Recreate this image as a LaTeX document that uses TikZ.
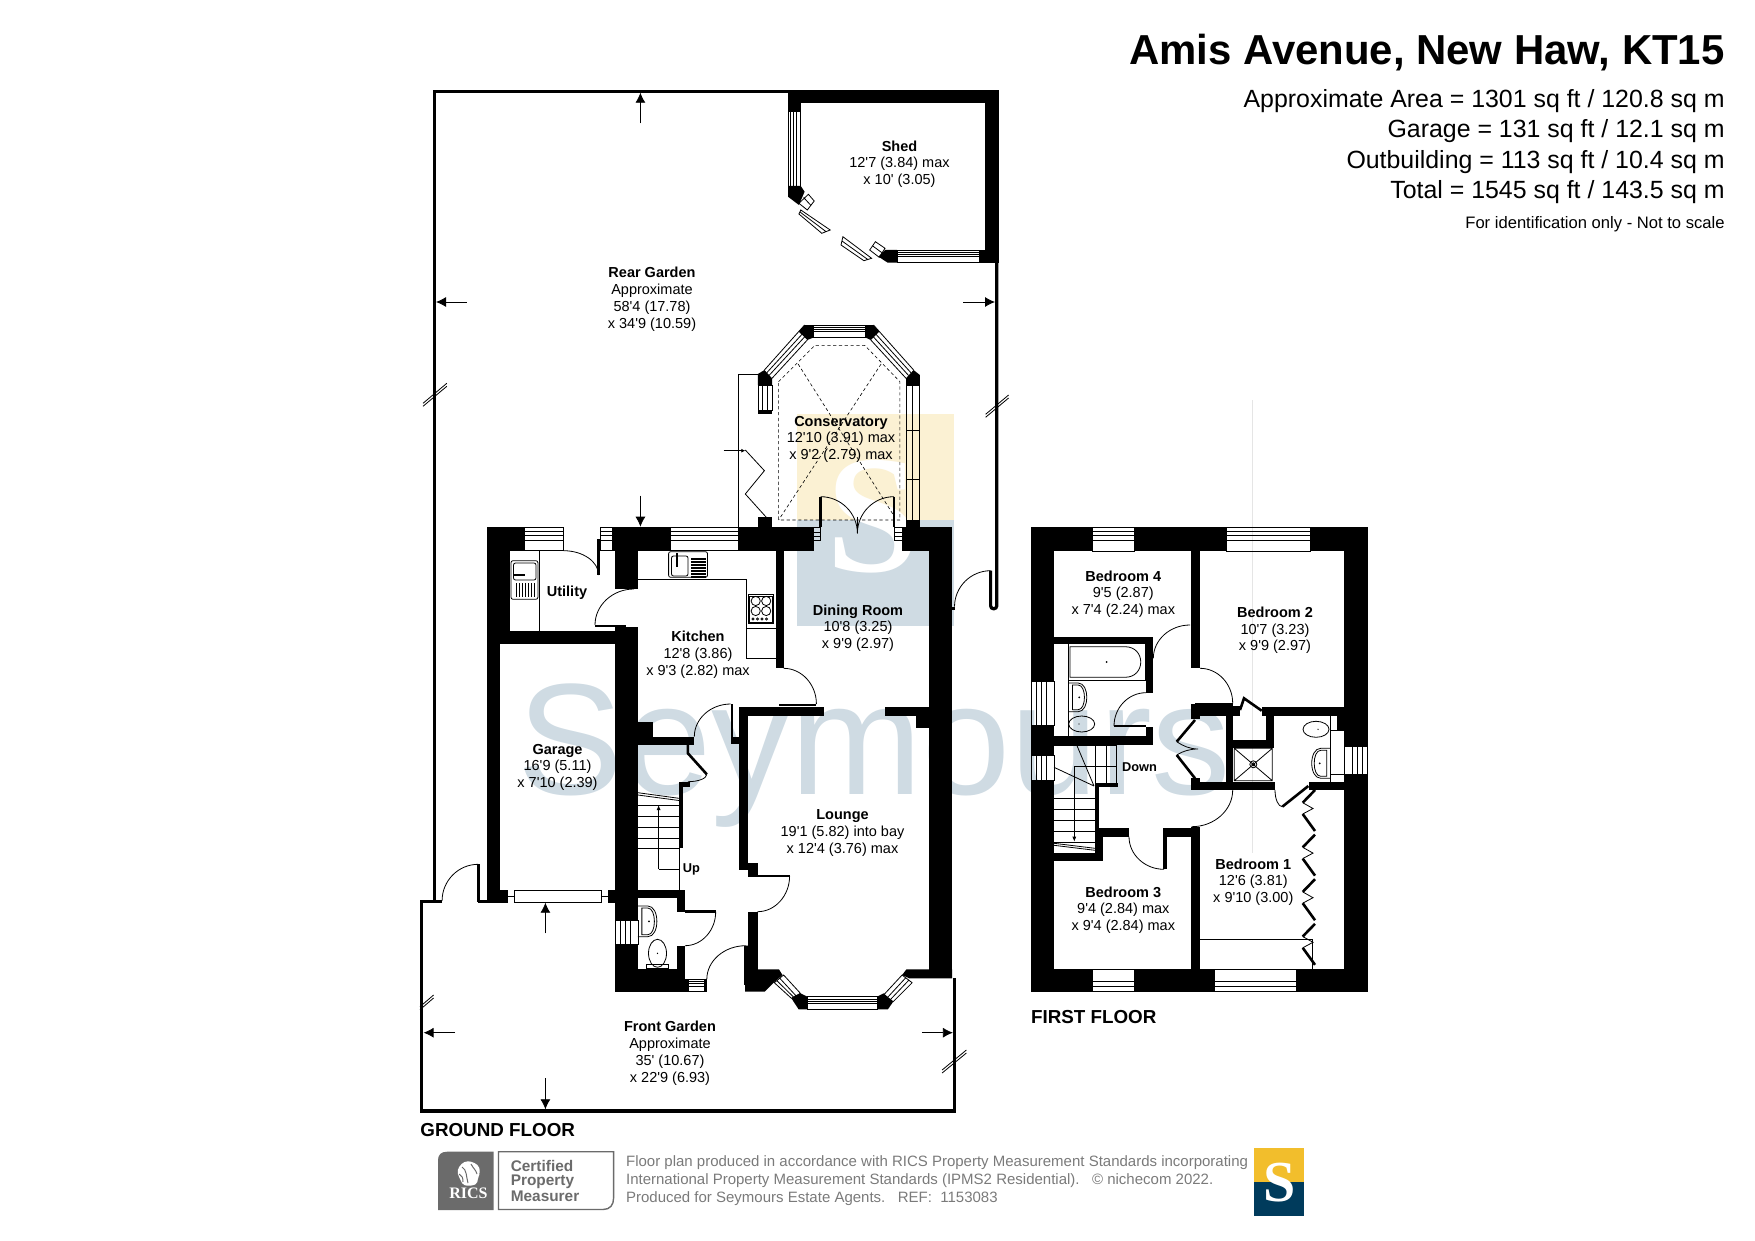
\documentclass[tikz,border=0pt]{standalone}
\usepackage{fontspec}
\setmainfont{Liberation Sans}[Ligatures=TeXOff]
\newfontfamily\logofont{Liberation Serif}
\usetikzlibrary{arrows.meta}
\definecolor{seymblue}{HTML}{CFDBE3}
\definecolor{seymyellow}{HTML}{FBF1D3}
\definecolor{logoyellow}{HTML}{F2BE2C}
\definecolor{logonavy}{HTML}{003B5C}
\definecolor{ricsgrey}{HTML}{6B6B6B}
\definecolor{notegrey}{HTML}{7A7A7A}
\tikzset{
  wall/.style={fill=black,draw=none},
  fitting/.style={line width=.4pt},
  leaf/.style={line width=1.3pt},
  boundary/.style={line width=1.6pt},
  dimarrow/.style={line width=.4pt,-{Latex[length=5pt,width=5pt]}},
  room/.style={align=center,yshift=-1.1pt,font=\fontsize{7.25}{8.35}\selectfont},
  tag/.style={anchor=west,yshift=-.9pt,font=\fontsize{6.4}{8}\selectfont\bfseries},
  floorname/.style={anchor=west,yshift=-.5pt,font=\fontsize{9.4}{11}\selectfont\bfseries},
  arealine/.style={anchor=east,yshift=-1.1pt,font=\fontsize{12.45}{14}\selectfont},
  noteline/.style={anchor=west,yshift=-1.4pt,text=notegrey,font=\fontsize{7.5}{9}\selectfont},
  ricsline/.style={anchor=west,text=ricsgrey,font=\fontsize{7.7}{9}\selectfont\bfseries},
}
\newcommand{\swing}[6]{\draw[fitting] (#3,#4) .. controls ({#3+.55*(#5-#1)},{#4+.55*(#6-#2)}) and ({#5+.55*(#3-#1)},{#6+.55*(#4-#2)}) .. (#5,#6);}
\newcommand{\paneh}[4]{\draw[fitting] (#1,#3) rectangle (#2,#4);
  \draw[fitting] (#1,{#3+.18*(#4-#3)}) -- (#2,{#3+.18*(#4-#3)}) (#1,{#3+.36*(#4-#3)}) -- (#2,{#3+.36*(#4-#3)}) (#1,{#3+.54*(#4-#3)}) -- (#2,{#3+.54*(#4-#3)});}
\newcommand{\panev}[4]{\draw[fitting] (#1,#3) rectangle (#2,#4);
  \draw[fitting] ({#1+.22*(#2-#1)},#3) -- ({#1+.22*(#2-#1)},#4) ({#1+.44*(#2-#1)},#3) -- ({#1+.44*(#2-#1)},#4) ({#1+.66*(#2-#1)},#3) -- ({#1+.66*(#2-#1)},#4);}
\newcommand{\washbasin}[4]{\draw[fitting] (#1,#2) -- ({#1+.45*#4},#2) .. controls ({#1+#4},#2) and ({#1+#4},#3) .. ({#1+.45*#4},#3) -- (#1,#3);
  \draw[fitting] ({#1+.18*#4},{#2+2}) -- ({#1+.45*#4},{#2+2}) .. controls ({#1+.85*#4},{#2+2}) and ({#1+.85*#4},{#3-2}) .. ({#1+.45*#4},{#3-2}) -- ({#1+.18*#4},{#3-2}) -- cycle;
  \fill ({#1+.5*#4},{.5*#2+.5*#3}) circle (1);}
\begin{document}
\begin{tikzpicture}[x=.5pt,y=-.5pt]
\useasboundingbox (0,0) rectangle (1755,1241);

% watermark
\fill[seymyellow] (797,414.3) rectangle (953.8,520);
\fill[seymblue] (797,520) rectangle (953.8,626);
\node[text=white,inner sep=0pt,font=\logofont\bfseries\fontsize{84}{84}\selectfont] (wmletter) at (873,517) {S};
\node[text=seymblue,inner sep=0pt,anchor=base west,font=\fontsize{79.3}{79}\selectfont] (wmname) at (517,794) {Seymours};
\draw[black!10,line width=.4pt] (1252.7,400) -- (1252.7,853);

% rear garden boundary
\draw[boundary] (434.3,900.7) -- (434.3,91.4) -- (788,91.4);
\draw[boundary,rounded corners=1.5pt] (996.8,262) -- (996.8,608.8) -- (990.6,608.8) -- (990.6,570.7);
\swing{990.6}{606.7}{990.6}{570.7}{954.5}{606.7}
\fill[wall] (951.7,606.7) rectangle (955,610);

% shed
\fill[wall] (788,90) rectangle (998.6,102.7);
\fill[wall] (985,90) rectangle (998.6,262.7);
\fill[wall] (979.5,250) rectangle (998.6,262.7);
\fill[wall] (788,90) rectangle (800.8,111.7);
\fill[wall] (885,250) -- (897,250) -- (897,262.7) -- (887.7,262.7) -- (878.5,256.7) -- cycle;
\fill[wall] (788,186) -- (800.8,186) -- (804.6,191.7) -- (798.9,205) -- (788,196.7) -- cycle;
\panev{788}{800.8}{111.7}{186}
\paneh{897}{979.5}{250}{262.7}
\draw[fitting] (808.4,194.3) -- (814.2,201) -- (807.3,210) -- (798.9,203.3) -- cycle (803.6,197.5) -- (811,205.5);
\draw[fitting] (875.4,241.7) -- (885,248.3) -- (879.2,257.3) -- (869.7,250) -- cycle (872.5,245.8) -- (882,252.8);
\draw[fitting] (800.8,210) -- (830.2,230) -- (821.8,233.3) -- (798.9,214) -- cycle (800,212) -- (826,231.6);
\draw[fitting] (842.9,236.7) -- (871.6,258.3) -- (863.9,260.7) -- (841,245) -- cycle (842,241) -- (867.8,259.5);

% rear garden dimensions
\draw[dimarrow] (640.4,123.3) -- (640.4,92.7);
\draw[dimarrow] (466.7,302) -- (436,302);
\draw[dimarrow] (963.4,302) -- (995,302);
\draw[dimarrow] (640.4,495.7) -- (640.4,526.7);
\draw[fitting] (423,403.3) -- (446.8,383.3) (423,406.3) -- (446.8,386.3);
\draw[fitting] (985.6,414.3) -- (1008.6,395) (985.6,417.3) -- (1008.6,398);

% conservatory
\fill[wall] (798.9,331.7) -- (804.6,325) -- (813,325) -- (813,337.7) -- (807.3,340) -- cycle;
\fill[wall] (865.8,325) -- (873.5,325) -- (879.2,331.7) -- (870.8,340) -- (865.8,337.7) -- cycle;
\fill[wall] (757.9,374) -- (764.4,370) -- (772,378.3) -- (772,385) -- (757.9,385) -- cycle;
\fill[wall] (906,378.3) -- (913.6,370) -- (919.8,375) -- (919.8,385) -- (906,385) -- cycle;
\fill[wall] (757.9,410) rectangle (772,414);
\fill[wall] (906,520) rectangle (920,527.3);
\fill[wall] (758,517.3) rectangle (772,527.3);
\paneh{813}{865.8}{325}{337.7}
\draw[fitting] (764.4,370) -- (804.6,325) (772,378.3) -- (807.3,340) (766.7,372.8) -- (801.8,334.5) (769,375.5) -- (804.5,337);
\draw[fitting] (913.6,370) -- (873.5,325) (906,378.3) -- (870.8,340) (911,372.8) -- (876.2,334.5) (908.6,375.5) -- (873.5,337);
\draw[fitting] (757.9,385) rectangle (772,410) (762.5,385) -- (762.5,410) (767.2,385) -- (767.2,410);
\draw[fitting] (906,385) rectangle (919.8,520) (912.8,385) -- (912.8,520) (906,430) -- (919.8,430) (906,479.3) -- (919.8,479.3);
\draw[fitting] (757.9,374) -- (738.4,374) -- (738.4,527.3);
\draw[line width=.3pt,dash pattern=on 1.6pt off 1.3pt] (778.6,381.7) -- (814.9,345.3) -- (864.7,345.3) -- (899.9,381.7) -- (899.9,520) -- (778.6,520) -- cycle;
\draw[line width=.3pt,dash pattern=on 1.6pt off 1.3pt] (798.1,364) -- (894.5,516.7) (881.1,364) -- (778.6,520);
\draw[dimarrow,-{Latex[length=2pt,width=2pt]}] (723.5,450.7) -- (745.3,450.7);
\draw[fitting] (745.3,450) -- (764.4,470.7) -- (745.3,494) -- (766.3,517.3);
\draw[leaf] (820.7,496.7) -- (820.7,527.3) (893.8,496.7) -- (893.8,527.3);
\swing{820.7}{533.3}{820.7}{496.7}{857.4}{533.3}
\swing{893.8}{533.3}{893.8}{496.7}{857.4}{533.3}
\draw[fitting] (857.4,516.7) -- (857.4,533.3);

% ground floor outer walls
\fill[wall] (487,527.3) rectangle (524.6,550.7);
\fill[wall] (487,527.3) rectangle (510,630.7);
\fill[wall] (487,630.7) rectangle (500,902.7);
\fill[wall] (487,630.7) rectangle (637.9,644);
\fill[wall] (612,527.3) rectangle (670,550.7);
\fill[wall] (615,527.3) rectangle (637.9,589);
\fill[wall] (615,627.3) rectangle (637.9,920);
\fill[wall] (615.4,944) rectangle (637.9,991.7);
\fill[wall] (737.9,527.3) rectangle (813.6,550.7);
\fill[wall] (902.1,527.3) rectangle (952.1,550.7);
\fill[wall] (928.9,527.3) rectangle (952.1,978.3);
\paneh{524.6}{563.6}{527.3}{550.7}
\paneh{600.4}{612}{527.3}{550.7}
\paneh{670}{737.9}{527.3}{550.7}
\draw[fitting] (813.6,527.3) rectangle (820.7,540.7) (813.6,532) -- (820.7,532) (813.6,536) -- (820.7,536);
\draw[fitting] (894.3,527.3) rectangle (902.1,540.7) (894.3,532) -- (902.1,532) (894.3,536) -- (902.1,536);

% ground floor inner walls
\fill[wall] (776.4,550.7) rectangle (783.6,668.3);
\fill[wall] (738.9,707.3) rectangle (823.6,715.7);
\fill[wall] (885,707.3) rectangle (928.9,715.7);
\fill[wall] (916.4,715.7) rectangle (928.9,727.7);
\fill[wall] (738.9,707.3) rectangle (747.5,870);
\fill[wall] (747.5,863.3) rectangle (757.5,876.7);
\fill[wall] (747.9,911.7) rectangle (757.5,970);
\fill[wall] (637.9,736.7) rectangle (694.3,745);
\fill[wall] (637.9,722.3) rectangle (652.9,736.7);
\fill[wall] (730.7,736.7) rectangle (738.9,744.3);
\fill[wall] (730.7,704) rectangle (733,737);
\fill[wall] (679,785) rectangle (682.5,848.3);
\fill[wall] (679,781.7) rectangle (689.6,786.5);
\fill[wall] (637.9,890) rectangle (685,898);
\fill[wall] (677.1,890) rectangle (685,911.7);
\fill[wall] (677.1,945.7) rectangle (685,970);
\fill[wall] (637.9,968.7) rectangle (685,991.7);
\fill[wall] (685,979.3) rectangle (687.9,991.7);
\fill[wall] (703.9,979.3) rectangle (706.8,991.7);
\fill[wall] (747.9,969.3) -- (778.9,969.3) -- (782.5,975) -- (773.6,982.7) -- (764.6,991.7) -- (745,991.7) -- (745,945.7) -- (747.9,945.7) -- cycle;
\fill[wall] (791.4,998.3) -- (800.4,993.3) -- (807.5,996.7) -- (807.5,1009.3) -- (798.6,1009.3) -- cycle;
\fill[wall] (877.1,996.7) -- (883.6,993.3) -- (893.2,1001.7) -- (887.9,1009.3) -- (877.1,1009.3) -- cycle;
\fill[wall] (902.1,975) -- (906.4,969.3) -- (952.1,969.3) -- (952.1,978.3) -- (909.3,978.3) -- cycle;
\fill[wall] (607.5,890) rectangle (615.4,902.7);
\fill[wall] (487,890) rectangle (507.9,902.7);
\draw[fitting] (783.6,975) -- (800.4,993.3) -- (791.4,998.3) -- (774.3,982.7) -- cycle (780,978.5) -- (796,995.8) (777,980.8) -- (793.5,997);
\draw[fitting] (883.6,995) -- (902.1,975) -- (912.1,982.7) -- (893.2,1001.7) -- cycle (887,998) -- (905.5,978) (890,1000) -- (908.8,980.2);
\paneh{807.5}{877.1}{996.7}{1009.3}
\paneh{687.9}{703.9}{979.3}{991.7}
\panev{615.4}{637.9}{920}{944}
\draw[fitting] (513.9,890) rectangle (601,902.7) (507.9,896.3) -- (513.9,896.3) (601,896.3) -- (607.5,896.3);

% doors
\swing{634}{625}{634}{589}{595}{625}
\draw[leaf] (595,626) -- (626,626);
\swing{563.6}{575}{563.6}{550.7}{598.6}{575}
\draw[leaf] (598.6,539) -- (598.6,575);
\swing{783.6}{704}{783.6}{668.3}{816.4}{704}
\draw[leaf] (779,705) -- (816.4,705);
\swing{730.7}{736.7}{730.7}{704}{694.3}{736.7}
\swing{757.5}{876}{789.6}{876}{757.5}{911.7}
\draw[leaf] (752,876) -- (789.6,876);
\swing{685}{911.7}{715.7}{911.7}{685}{945.7}
\draw[leaf] (685,911.7) -- (715.7,911.7);
\swing{745.7}{979.3}{745.7}{945.7}{706.8}{979.3}
\draw[leaf] (745.7,945.7) -- (745.7,985);
\swing{478.2}{900.7}{478.2}{864.3}{442.1}{900.7}
\draw[leaf] (478.2,864.3) -- (478.2,901.7);
\draw[leaf] (687.9,745) -- (687.9,753.3) -- (706.8,774.3);
\swing{687.9}{774.3}{706.8}{774.3}{687.9}{781.7}

% stairs
\foreach \ty in {805,816.7,827.3,838.3,848.3}
  \draw[fitting] (637.9,\ty) -- (679,\ty);
\draw[fitting] (637.9,792.7) -- (679,798.3) (637.9,795) -- (679,800.5);
\draw[fitting] (679.6,848) -- (679.6,890) (679.6,869.3) -- (658.6,869.3);
\draw[dimarrow,-{Latex[length=2.5pt,width=2pt]}] (658.6,869.3) -- (658.6,805);

% kitchen and utility fittings
\draw[fitting] (539.3,550.7) -- (539.3,630.7);
\draw[fitting,rounded corners=1pt] (511,560.7) rectangle (537.9,599.3);
\draw[fitting,rounded corners=1pt] (513.5,563) rectangle (536,580);
\draw[line width=.9pt] (513,575) -- (525,575);
\foreach \sx in {516.5,519.5,...,535}
  \draw[line width=.8pt] (\sx,583) -- (\sx,597);
\draw[fitting] (637.9,579.3) -- (746.8,579.3) -- (746.8,658.3) -- (776.4,658.3);
\draw[fitting] (746.8,628.3) -- (776.4,628.3);
\draw[fitting,rounded corners=1pt] (668.6,551.7) rectangle (707.5,577.3);
\draw[fitting,rounded corners=1pt] (671.5,556) rectangle (688,576);
\draw[line width=.9pt] (677,553) -- (677,567);
\foreach \sy in {559,562,...,577}
  \draw[line width=.8pt] (691,\sy) -- (706,\sy);
\draw[fitting] (747.9,594.3) rectangle (773.6,623.3);
\draw[fitting] (749.5,596) rectangle (772,622);
\foreach \hx in {755.7,766.2}
  \foreach \hy in {601,611}
    \draw[fitting] (\hx,\hy) circle [radius=4.6];
\foreach \kx in {753,757.5,762,766.5}
  \draw[fitting] (\kx,619) circle [radius=1.1];

% cloakroom fittings
\washbasin{637.9}{906}{936.7}{22}
\draw[fitting] (657.5,953.3) ellipse [x radius=9,y radius=14];
\draw[fitting] (646.8,964) rectangle (668,968.7);
\fill (657.5,953.3) circle [radius=.7];

% front garden boundary
\draw[boundary] (442.1,901.5) -- (421.8,901.5) -- (421.8,1111) -- (954.8,1111) -- (954.8,978.3);
\draw[boundary] (478.2,901.5) -- (487,901.5);
\draw[dimarrow] (545.4,933.3) -- (545.4,902.7);
\draw[dimarrow] (455,1032.7) -- (423.6,1032.7);
\draw[dimarrow] (921.8,1032.7) -- (952.9,1032.7);
\draw[dimarrow] (545.4,1078.3) -- (545.4,1109.3);
\draw[fitting] (420,1006.7) -- (433.6,995) (420,1009.7) -- (433.6,998);
\draw[fitting] (942.1,1070) -- (966.4,1050) (942.1,1073) -- (966.4,1053);

% first floor walls
\fill[wall] (1031,527.3) rectangle (1092.7,551);
\fill[wall] (1134,527.3) rectangle (1226.7,551);
\fill[wall] (1310,527.3) rectangle (1367.7,551);
\fill[wall] (1031,527.3) rectangle (1054,681);
\fill[wall] (1031,725) rectangle (1054,755);
\fill[wall] (1031,780) rectangle (1054,991.7);
\fill[wall] (1344,527.3) rectangle (1367.7,746);
\fill[wall] (1344,774) rectangle (1367.7,991.7);
\fill[wall] (1031,969) rectangle (1092.7,991.7);
\fill[wall] (1134,969) rectangle (1214,991.7);
\fill[wall] (1296,969) rectangle (1367.7,991.7);
\paneh{1092.7}{1134}{527.3}{551}
\paneh{1226.7}{1310}{527.3}{551}
\draw[fitting] (1092.7,969) rectangle (1134,991.7) (1092.7,981) -- (1134,981) (1092.7,986) -- (1134,986);
\draw[fitting] (1214,969) rectangle (1296,991.7) (1214,981) -- (1296,981) (1214,986) -- (1296,986);
\panev{1031.7}{1054}{681}{725}
\panev{1031.7}{1054}{755}{780}
\draw[fitting] (1344,746) rectangle (1367.3,774) (1352,746) -- (1352,774) (1357,746) -- (1357,774) (1362,746) -- (1362,774);
\fill[wall] (1191,551) rectangle (1200,668.3);
\fill[wall] (1054,636.7) rectangle (1153.3,644);
\fill[wall] (1146,636.7) rectangle (1153.3,692.7);
\fill[wall] (1054,736) rectangle (1153.3,745);
\fill[wall] (1146,726.7) rectangle (1153.3,745);
\fill[wall] (1191,704) rectangle (1200,719.3);
\fill[wall] (1191,706) rectangle (1240,715.7);
\fill[wall] (1261.7,706.7) rectangle (1344,715.7);
\fill[wall] (1226,708) rectangle (1233.3,786.7);
\fill[wall] (1226,740) rectangle (1274,748.3);
\fill[wall] (1266,708) rectangle (1274,748.3);
\fill[wall] (1191,781.7) rectangle (1275,790);
\fill[wall] (1191,778.3) rectangle (1200,785);
\fill[wall] (1309.3,781.7) rectangle (1344,790);
\fill[wall] (1336.7,715.7) rectangle (1344,730.7);
\fill[wall] (1191,826.7) rectangle (1200,969);
\fill[wall] (1099,828.3) rectangle (1129,836.7);
\fill[wall] (1165,828.3) rectangle (1200,836.7);
\fill[wall] (1163.3,828.3) rectangle (1166.7,869.3);
\fill[wall] (1095,786) rectangle (1099,860);
\fill[wall] (1054,853.3) rectangle (1103.3,860.7);
\fill[wall] (1099,828.3) rectangle (1103.3,860.7);
\fill[wall] (1095,783) rectangle (1118.3,786.7);

% first floor doors
\swing{1190}{658.3}{1190}{625}{1153.3}{658.3}
\swing{1200}{703.3}{1200}{668.3}{1232.7}{703.3}
\draw[leaf] (1195,704.5) -- (1232.7,704.5);
\swing{1146}{726}{1146}{692.7}{1114}{726}
\draw[leaf] (1114,726) -- (1146,726);
\swing{1191.7}{790}{1232.7}{790}{1191.7}{826.7}
\swing{1164}{836.7}{1129}{836.7}{1164}{869.3}
\swing{1282.3}{790}{1275}{790}{1282.3}{806.7}
\draw[leaf] (1282.3,806.7) -- (1308.3,786);
\draw[leaf] (1240,710) -- (1244,698.3) -- (1261.7,710.7);
\draw[leaf] (1195,720) -- (1176.7,741.7) (1176.7,755) -- (1195,778.3);
\draw[fitting] (1176.7,741.7) .. controls (1183,746) and (1190,749) .. (1198,749) .. controls (1190,749) and (1183,751) .. (1176.7,755);
\foreach \wy in {790,834.6,879.2,923.8} {
  \draw[leaf] (1315,\wy) -- (1302.7,\wy+12.7) (1302.7,\wy+24) -- (1315,\wy+41);
  \draw[fitting] (1302.7,\wy+12.7) -- (1313,\wy+18.5) -- (1302.7,\wy+24);
}
\draw[fitting] (1200,939.3) -- (1312.7,939.3) -- (1312.7,969);

% first floor stairs
\foreach \ty in {798.3,809.3,820.7,831.7,842.7}
  \draw[fitting] (1054,\ty) -- (1095,\ty);
\draw[fitting] (1054,843.3) -- (1095,848.3) (1054,845.3) -- (1095,850.3);
\draw[fitting] (1054,745) -- (1116.7,745) (1095,745) -- (1095,786) (1106.7,745) -- (1106.7,786) (1116.7,745) -- (1116.7,786);
\draw[fitting] (1074.3,766) -- (1116.7,766);
\draw[fitting] (1076.7,745) -- (1094,786) (1054,767.3) -- (1094,786);
\draw[dimarrow,-{Latex[length=2.5pt,width=2pt]}] (1074.3,766) -- (1074.3,841.7);

% first floor fittings
\draw[fitting] (1068.7,644) -- (1068.7,736.7);
\draw[fitting] (1068.7,680.7) -- (1146,680.7);
\draw[fitting] (1145,644) -- (1145,680.7);
\draw[fitting] (1070,646.7) -- (1125,646.7) .. controls (1146,646.7) and (1146,677.3) .. (1125,677.3) -- (1070,677.3) -- cycle;
\fill (1106.5,662) circle [radius=1];
\washbasin{1068.7}{683}{711.7}{21}
\draw[fitting] (1081.7,724) ellipse [x radius=13,y radius=8];
\fill (1079,724) circle [radius=.7];
\draw[fitting] (1234.3,748.3) rectangle (1272.3,780.7) (1234.3,748.3) -- (1272.3,780.7) (1234.3,780.7) -- (1272.3,748.3);
\draw[fitting] (1253.3,764.3) circle [radius=3.5] (1253.3,764.3) circle [radius=1.5];
\draw[fitting] (1330.7,715.7) -- (1330.7,781.7);
\draw[fitting] (1330.7,730.7) -- (1344,730.7) (1330.7,774) -- (1344,774);
\draw[fitting] (1316,729.3) ellipse [x radius=13,y radius=8];
\fill (1318,729.3) circle [radius=.7];
\washbasin{1330.7}{748.3}{778.3}{-22}

% room labels
\node[room] (shed) at (899.5,162) {\textbf{Shed}\\12'7 (3.84) max\\x 10' (3.05)};
\node[room] (reargarden) at (652,297) {\textbf{Rear Garden}\\Approximate\\58'4 (17.78)\\x 34'9 (10.59)};
\node[room] (conservatory) at (841,437) {\textbf{Conservatory}\\12'10 (3.91) max\\x 9'2 (2.79) max};
\node[room] (dining) at (858,626) {\textbf{Dining Room}\\10'8 (3.25)\\x 9'9 (2.97)};
\node[room] (kitchen) at (698,652.7) {\textbf{Kitchen}\\12'8 (3.86)\\x 9'3 (2.82) max};
\node[room] (garage) at (557.5,765) {\textbf{Garage}\\16'9 (5.11)\\x 7'10 (2.39)};
\node[room] (lounge) at (842.5,831) {\textbf{Lounge}\\19'1 (5.82) into bay\\x 12'4 (3.76) max};
\node[room] (frontgarden) at (670,1051) {\textbf{Front Garden}\\Approximate\\35' (10.67)\\x 22'9 (6.93)};
\node[room] (bedfour) at (1123.3,592) {\textbf{Bedroom 4}\\9'5 (2.87)\\x 7'4 (2.24) max};
\node[room] (bedtwo) at (1275,628.3) {\textbf{Bedroom 2}\\10'7 (3.23)\\x 9'9 (2.97)};
\node[room] (bedone) at (1253.3,880) {\textbf{Bedroom 1}\\12'6 (3.81)\\x 9'10 (3.00)};
\node[room] (bedthree) at (1123.3,908) {\textbf{Bedroom 3}\\9'4 (2.84) max\\x 9'4 (2.84) max};
\node[room] (utility) at (567,591) {\textbf{Utility}};
\node[tag,inner sep=0pt] (stairup) at (682.5,867.7) {Up};
\node[tag,inner sep=0pt] (stairdown) at (1121.7,765) {Down};
\node[floorname,inner sep=0pt] (groundfloor) at (420,1129.3) {GROUND FLOOR};
\node[floorname,inner sep=0pt] (firstfloor) at (1030.7,1015.7) {FIRST FLOOR};

% heading
\node[anchor=east,inner sep=0pt,yshift=-2.2pt,font=\fontsize{20.95}{22}\selectfont\bfseries] (heading) at (1725,48) {Amis Avenue, New Haw, KT15};
\node[arealine,inner sep=0pt] (approxarea) at (1725,99) {Approximate Area = 1301 sq ft / 120.8 sq m};
\node[arealine,inner sep=0pt] (garagearea) at (1725,129.3) {Garage = 131 sq ft / 12.1 sq m};
\node[arealine,inner sep=0pt] (outarea) at (1725,160) {Outbuilding = 113 sq ft / 10.4 sq m};
\node[arealine,inner sep=0pt] (totalarea) at (1725,190) {Total = 1545 sq ft / 143.5 sq m};
\node[anchor=east,inner sep=0pt,yshift=-1.1pt,font=\fontsize{8.3}{9}\selectfont] (idonly) at (1725,221.7) {For identification only - Not to scale};

% footer
\fill[ricsgrey] (438,1210) -- (438,1160) .. controls (438,1155) and (441,1151.7) .. (447,1151.7) -- (493.5,1151.7) -- (493.5,1210) -- cycle;
\fill[white,rounded corners=1pt] (460,1165) -- (466,1161) -- (473,1162) -- (479,1166) -- (480,1173) -- (478,1178) -- (477,1184) -- (470,1186) -- (463,1185) -- (460,1179) -- (457,1172) -- cycle;
\draw[ricsgrey,line width=.5pt] (462,1167) .. controls (467,1170) and (466,1176) .. (468,1183) (471,1164) .. controls (473,1168) and (476,1170) .. (477,1174) (459,1174) .. controls (462,1175) and (463,1178) .. (463,1182);
\node[text=white,inner sep=0pt,font=\logofont\bfseries\fontsize{8}{8}\selectfont] (ricsmark) at (468.5,1193.5) {RICS};
\draw[ricsgrey,line width=.7pt] (498.5,1151.7) -- (613.6,1151.7) -- (613.6,1198) .. controls (613.6,1205) and (610,1209.5) .. (603,1209.5) -- (498.5,1209.5) -- cycle;
\node[ricsline,inner sep=0pt] (certified) at (510.4,1165.7) {Certified};
\node[ricsline,inner sep=0pt] (property) at (510.4,1181.7) {Property};
\node[ricsline,inner sep=0pt] (measurer) at (510.4,1196.7) {Measurer};
\node[noteline,inner sep=0pt] (noteone) at (625.7,1160) {Floor plan produced in accordance with RICS Property Measurement Standards incorporating};
\node[noteline,inner sep=0pt] (notetwo) at (625.7,1177.7) {International Property Measurement Standards (IPMS2 Residential).\ \ \ © nichecom 2022.};
\node[noteline,inner sep=0pt] (notethree) at (625.7,1195.7) {Produced for Seymours Estate Agents.\ \ \ REF:\ \ 1153083};
\fill[logoyellow] (1254.3,1148.3) rectangle (1304.3,1181.7);
\fill[logonavy] (1254.3,1181.7) rectangle (1304.3,1216);
\node[text=white,inner sep=0pt,font=\logofont\bfseries\fontsize{29}{29}\selectfont] (logoletter) at (1279.5,1183) {S};
\end{tikzpicture}
\end{document}
